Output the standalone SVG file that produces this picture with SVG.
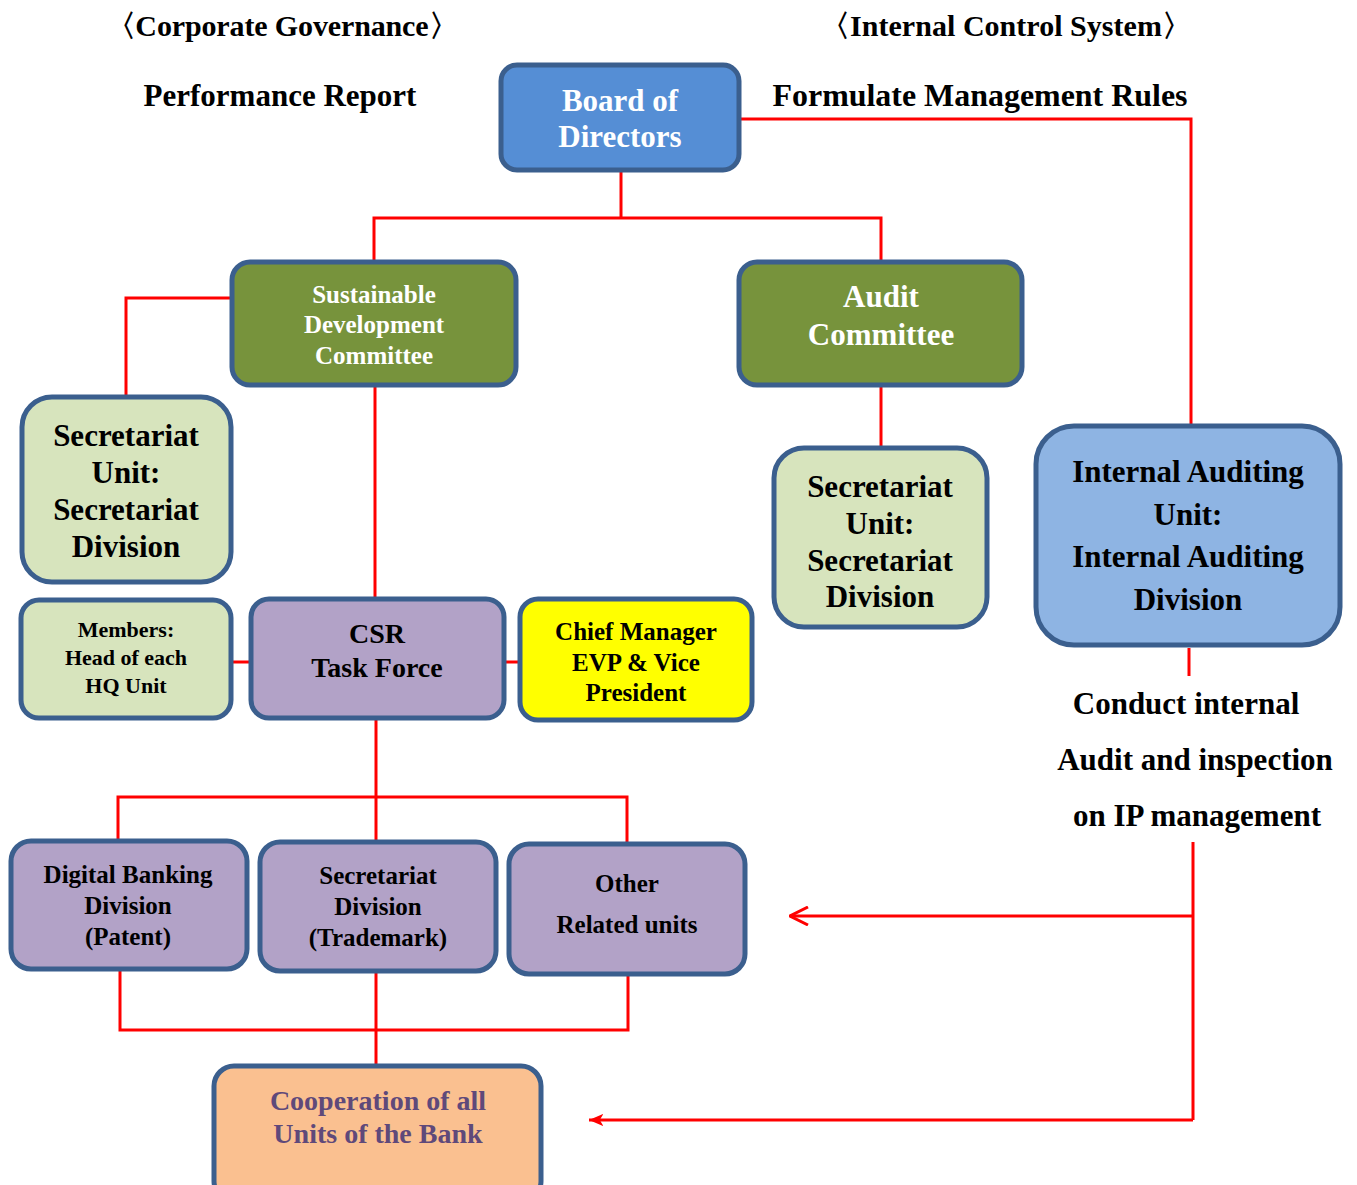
<svg xmlns="http://www.w3.org/2000/svg" width="1357" height="1185" viewBox="0 0 1357 1185">
<defs>
<style>
text{font-family:"Liberation Serif","Times New Roman",serif;font-weight:bold;text-anchor:middle;}
.box{stroke:#3B5F8E;stroke-width:5;}
.ln{stroke:#FF0000;stroke-width:3;fill:none;}
.w{fill:#FFFFFF;}
.k{fill:#000000;}
</style>
<marker id="open" viewBox="0 0 20 20" refX="19" refY="10" markerWidth="20" markerHeight="20" markerUnits="userSpaceOnUse" orient="auto">
<path d="M1,1 L19,10 L1,19" fill="none" stroke="#FF0000" stroke-width="3"/>
</marker>
<marker id="solid" viewBox="0 0 20 20" refX="16" refY="10" markerWidth="18" markerHeight="18" markerUnits="userSpaceOnUse" orient="auto">
<path d="M16,10 L0,3 L4,10 L0,17 Z" fill="#FF0000"/>
</marker>
</defs>
<rect width="1357" height="1185" fill="#FFFFFF"/>

<g id="labels" class="k">
<text x="282" y="36" font-size="30" textLength="353" lengthAdjust="spacing">〈Corporate Governance〉</text>
<text x="1006" y="36" font-size="30" textLength="372" lengthAdjust="spacing">〈Internal Control System〉</text>
<text x="280" y="106" font-size="31">Performance Report</text>
<text x="980" y="106" font-size="31" textLength="415" lengthAdjust="spacingAndGlyphs">Formulate Management Rules</text>
<text x="1186" y="714" font-size="31">Conduct internal</text>
<text x="1195" y="770" font-size="31">Audit and inspection</text>
<text x="1197" y="826" font-size="31">on IP management</text>
</g>

<g id="connectors">
<polyline class="ln" points="740,119 1191,119 1191,426"/>
<polyline class="ln" points="621,171 621,218"/>
<polyline class="ln" points="374,262 374,218 881,218 881,262"/>
<polyline class="ln" points="232,298 126,298 126,397"/>
<line class="ln" x1="375" y1="386" x2="375" y2="598"/>
<line class="ln" x1="881" y1="386" x2="881" y2="447"/>
<line class="ln" x1="1189" y1="648" x2="1189" y2="676"/>
<line class="ln" x1="232" y1="662" x2="250" y2="662"/>
<line class="ln" x1="505" y1="662" x2="519" y2="662"/>
<line class="ln" x1="376" y1="719" x2="376" y2="841"/>
<polyline class="ln" points="118,840 118,797 627,797 627,843"/>
<polyline class="ln" points="120,970 120,1030 628,1030 628,975"/>
<line class="ln" x1="376" y1="972" x2="376" y2="1065"/>
<polyline class="ln" points="1193,842 1193,1120"/>
<line class="ln" x1="1193" y1="916" x2="790" y2="916" marker-end="url(#open)"/>
<line class="ln" x1="1193" y1="1120" x2="589" y2="1120" marker-end="url(#solid)"/>
</g>

<g id="board">
<rect class="box" x="501" y="65" width="238" height="105" rx="16" fill="#558ED5"/>
<text class="w" x="620" y="111" font-size="31">Board of</text>
<text class="w" x="620" y="147" font-size="31">Directors</text>
</g>

<g id="sdc">
<rect class="box" x="232" y="262" width="284" height="123" rx="18" fill="#77933C"/>
<text class="w" x="374" y="303" font-size="25">Sustainable</text>
<text class="w" x="374" y="333" font-size="25">Development</text>
<text class="w" x="374" y="364" font-size="25">Committee</text>
</g>

<g id="audit">
<rect class="box" x="739" y="262" width="283" height="123" rx="18" fill="#77933C"/>
<text class="w" x="881" y="307" font-size="31">Audit</text>
<text class="w" x="881" y="345" font-size="31">Committee</text>
</g>

<g id="sec-left">
<rect class="box" x="22" y="397" width="209" height="185" rx="30" fill="#D7E4BD"/>
<text class="k" x="126" y="446" font-size="31">Secretariat</text>
<text class="k" x="126" y="483" font-size="31">Unit:</text>
<text class="k" x="126" y="520" font-size="31">Secretariat</text>
<text class="k" x="126" y="557" font-size="31">Division</text>
</g>

<g id="sec-right">
<rect class="box" x="774" y="448" width="213" height="179" rx="30" fill="#D7E4BD"/>
<text class="k" x="880" y="497" font-size="31">Secretariat</text>
<text class="k" x="880" y="534" font-size="31">Unit:</text>
<text class="k" x="880" y="571" font-size="31">Secretariat</text>
<text class="k" x="880" y="607" font-size="31">Division</text>
</g>

<g id="internal-audit">
<rect class="box" x="1036" y="426" width="304" height="219" rx="38" fill="#8EB4E3"/>
<text class="k" x="1188" y="482" font-size="31">Internal Auditing</text>
<text class="k" x="1188" y="525" font-size="31">Unit:</text>
<text class="k" x="1188" y="567" font-size="31">Internal Auditing</text>
<text class="k" x="1188" y="610" font-size="31">Division</text>
</g>

<g id="members">
<rect class="box" x="21" y="600" width="210" height="118" rx="18" fill="#D7E4BD"/>
<text class="k" x="126" y="637" font-size="22">Members:</text>
<text class="k" x="126" y="665" font-size="22">Head of each</text>
<text class="k" x="126" y="693" font-size="22">HQ Unit</text>
</g>

<g id="csr">
<rect class="box" x="251" y="599" width="253" height="119" rx="18" fill="#B2A2C7"/>
<text class="k" x="377" y="643" font-size="28">CSR</text>
<text class="k" x="377" y="677" font-size="28">Task Force</text>
</g>

<g id="chief">
<rect class="box" x="520" y="599" width="232" height="121" rx="18" fill="#FFFF00"/>
<text class="k" x="636" y="640" font-size="25">Chief Manager</text>
<text class="k" x="636" y="671" font-size="25">EVP &amp; Vice</text>
<text class="k" x="636" y="701" font-size="25">President</text>
</g>

<g id="digital">
<rect class="box" x="11" y="841" width="236" height="128" rx="20" fill="#B2A2C7"/>
<text class="k" x="128" y="883" font-size="25">Digital Banking</text>
<text class="k" x="128" y="914" font-size="25">Division</text>
<text class="k" x="128" y="945" font-size="25">(Patent)</text>
</g>

<g id="sec-div">
<rect class="box" x="260" y="842" width="236" height="129" rx="20" fill="#B2A2C7"/>
<text class="k" x="378" y="884" font-size="25">Secretariat</text>
<text class="k" x="378" y="915" font-size="25">Division</text>
<text class="k" x="378" y="946" font-size="25">(Trademark)</text>
</g>

<g id="other">
<rect class="box" x="509" y="844" width="236" height="130" rx="20" fill="#B2A2C7"/>
<text class="k" x="627" y="892" font-size="25">Other</text>
<text class="k" x="627" y="933" font-size="25">Related units</text>
</g>

<g id="cooperation">
<rect class="box" x="214" y="1066" width="327" height="135" rx="20" fill="#FAC090"/>
<text x="378" y="1110" font-size="28" fill="#5F497A">Cooperation of all</text>
<text x="378" y="1143" font-size="28" fill="#5F497A">Units of the Bank</text>
</g>
</svg>
